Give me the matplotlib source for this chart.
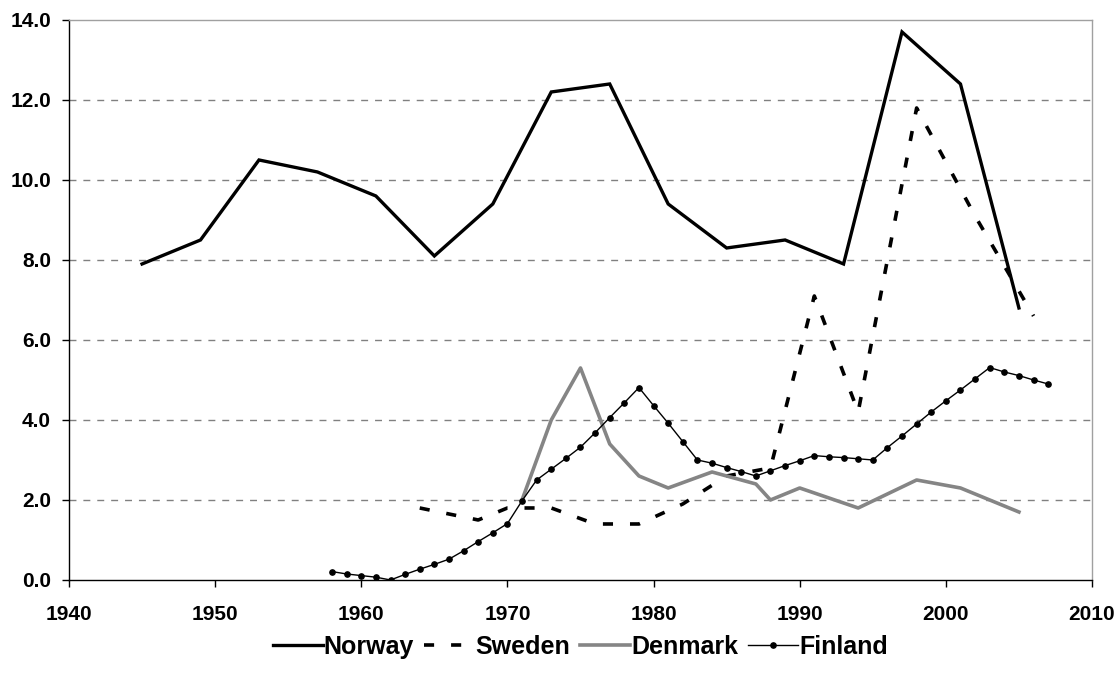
import matplotlib.pyplot as plt
import numpy as np

plt.rcParams['font.family'] = ['Liberation Sans', 'DejaVu Sans']
plt.rcParams['font.weight'] = 'bold'

norway_years = [1945, 1949, 1953, 1957, 1961, 1965, 1969, 1973, 1977, 1981, 1985, 1989, 1993, 1997, 2001, 2005]
norway = [7.9, 8.5, 10.5, 10.2, 9.6, 8.1, 9.4, 12.2, 12.4, 9.4, 8.3, 8.5, 7.9, 13.7, 12.4, 6.8]

sweden_years = [1964, 1968, 1970, 1973, 1976, 1979, 1982, 1985, 1988, 1991, 1994, 1998, 2002, 2006]
sweden = [1.8, 1.5, 1.8, 1.8, 1.4, 1.4, 1.9, 2.6, 2.8, 7.1, 4.2, 11.8, 9.1, 6.6]

denmark_years = [1971, 1973, 1975, 1977, 1979, 1981, 1984, 1987, 1988, 1990, 1994, 1998, 2001, 2005]
denmark = [2.0, 4.0, 5.3, 3.4, 2.6, 2.3, 2.7, 2.4, 2.0, 2.3, 1.8, 2.5, 2.3, 1.7]

finland_years = list(range(1958, 2008))
finland = [0.21, 0.15, 0.11, 0.07, 0.0, 0.14, 0.27, 0.39, 0.52, 0.73,
           0.96, 1.18, 1.41, 1.98, 2.5, 2.77, 3.04, 3.32, 3.68, 4.06,
           4.43, 4.81, 4.36, 3.92, 3.46, 3.0, 2.92, 2.81, 2.71, 2.6,
           2.73, 2.86, 2.98, 3.11, 3.08, 3.06, 3.03, 3.0, 3.31, 3.6,
           3.9, 4.2, 4.48, 4.75, 5.03, 5.31, 5.2, 5.11, 5.0, 4.9]

fig = plt.figure(figsize=(11.2, 6.77), dpi=100)
ax = fig.add_axes([0.0616, 0.1433, 0.9134, 0.8272])

ax.plot(norway_years, norway, color='black', lw=2.4, label='Norway', solid_joinstyle='miter')
ax.plot(sweden_years, sweden, color='black', lw=2.6, dashes=(2.8, 4.7), label='Sweden')
ax.plot(denmark_years, denmark, color='#858585', lw=2.6, label='Denmark')
ax.plot(finland_years, finland, color='black', lw=1.0, marker='o', markersize=3.8, label='Finland')

ax.set_xlim(1940, 2010)
ax.set_ylim(0, 14)
ax.set_xticks(np.arange(1940, 2011, 10))
ax.set_yticks(np.arange(0, 14.1, 2))
ax.set_yticklabels(['%.1f' % v for v in np.arange(0, 14.1, 2)])

# dashed grid
for y in range(2, 14, 2):
    ax.axhline(y, color='#808080', lw=1.0, dashes=(5, 5), zorder=0)

ax.spines['top'].set_color('#a0a0a0')
ax.spines['right'].set_color('#a0a0a0')
ax.spines['left'].set_color('black')
ax.spines['bottom'].set_color('black')
for s in ax.spines.values():
    s.set_linewidth(1.0)

ax.tick_params(axis='both', direction='out', length=5, width=1, labelsize=15, color='black')
ax.tick_params(axis='x', pad=13)
ax.tick_params(axis='y', pad=8)
for lab in ax.get_xticklabels() + ax.get_yticklabels():
    lab.set_fontweight('bold')

leg = ax.legend(loc='center', bbox_to_anchor=(0.5, -0.12), ncol=4, frameon=False,
                fontsize=18, handlelength=2.0, handletextpad=0.05, columnspacing=0.4)
for t in leg.get_texts():
    t.set_fontweight('bold')

fig.savefig('out.png', dpi=100)
